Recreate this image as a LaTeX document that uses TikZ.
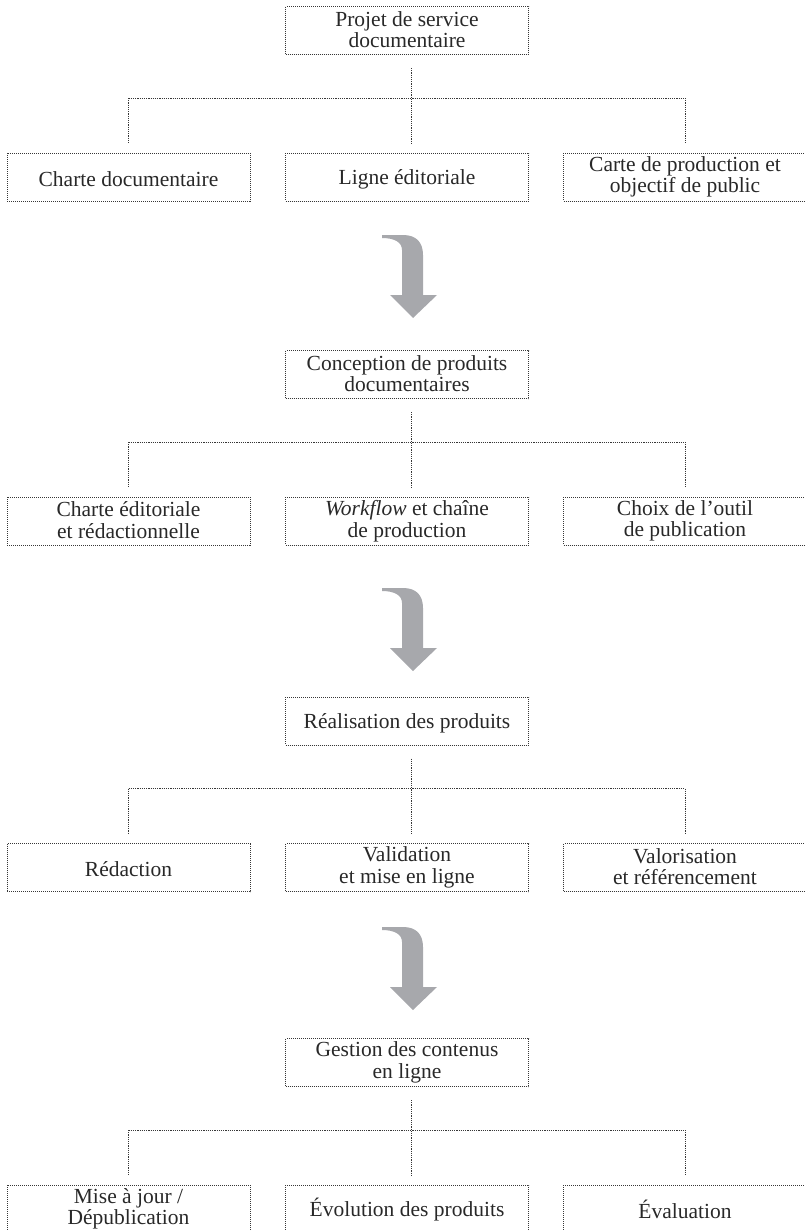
\documentclass[tikz,border=0pt]{standalone}
\usepackage{fontspec}
\setmainfont{Liberation Serif}
\definecolor{txt}{RGB}{40,40,40}
\definecolor{ln}{RGB}{55,55,55}
\definecolor{arr}{RGB}{167,168,172}
\newcommand{\topstrut}{\rule{0pt}{20pt}}
\newcommand{\botstrut}{\rule[-2pt]{0pt}{2pt}}
\tikzset{
  box/.style={draw=ln, line width=0.9pt, dash pattern=on 1pt off 1pt,
    minimum width=243pt, minimum height=48pt, inner sep=0pt, align=center,
    text=txt, font=\fontsize{21.5}{21.5}\selectfont,
    execute at begin node=\topstrut, execute at end node=\botstrut},
  conn/.style={draw=ln, line width=0.9pt, dash pattern=on 1.2pt off 1pt},
  curvarrow/.pic={
    \fill[arr] (-31,0) -- (-10,0) .. controls (3,0) and (10,7) .. (10,20)
      -- (10,60) -- (24,60) -- (0,83) -- (-23,60) -- (-11,60) -- (-11,15)
      .. controls (-11,7) and (-19,3) .. (-31,3) -- cycle;
  }
}
\begin{document}
\begin{tikzpicture}[x=1pt,y=-1pt]
\useasboundingbox (0,0) rectangle (805,1231);

% ---------- Stage 1 (c = 30.5)
\node[box] (p1) at (407,30.5) {Projet de service\\documentaire};
\node[box] (a1) at (128.5,177) {Charte documentaire};
\node[box] (b1) at (407,177) {Ligne éditoriale};
\node[box] (c1) at (685,177) {Carte de production et\\objectif de public};
\coordinate (v1) at (411,68);
\coordinate (h1l) at (128.5,98);
\coordinate (h1r) at (685,98);
\coordinate (d1l) at (128.5,143);
\coordinate (d1m) at (411,143);
\coordinate (d1r) at (685,143);
\draw[conn] (v1) -- (d1m);
\draw[conn] (h1l) -- (h1r);
\draw[conn] (h1l) -- (d1l);
\draw[conn] (h1r) -- (d1r);
\pic at (413,235) {curvarrow};

% ---------- Stage 2 (c = 374.5)
\node[box] (p2) at (407,374.5) {Conception de produits\\documentaires};
\node[box] (a2) at (128.5,521) {Charte éditoriale\\et rédactionnelle};
\node[box] (b2) at (407,521) {\textit{Workflow} et chaîne\\de production};
\node[box] (c2) at (685,521) {Choix de l’outil\\de publication};
\coordinate (v2) at (411,412);
\coordinate (h2l) at (128.5,442);
\coordinate (h2r) at (685,442);
\coordinate (d2l) at (128.5,487);
\coordinate (d2m) at (411,487);
\coordinate (d2r) at (685,487);
\draw[conn] (v2) -- (d2m);
\draw[conn] (h2l) -- (h2r);
\draw[conn] (h2l) -- (d2l);
\draw[conn] (h2r) -- (d2r);
\pic at (413,588) {curvarrow};

% ---------- Stage 3 (c = 721)
\node[box] (p3) at (407,721) {Réalisation des produits};
\node[box] (a3) at (128.5,867.5) {Rédaction};
\node[box] (b3) at (407,867.5) {Validation\\et mise en ligne};
\node[box] (c3) at (685,867.5) {Valorisation\\et référencement};
\coordinate (v3) at (411,758.5);
\coordinate (h3l) at (128.5,788.5);
\coordinate (h3r) at (685,788.5);
\coordinate (d3l) at (128.5,833.5);
\coordinate (d3m) at (411,833.5);
\coordinate (d3r) at (685,833.5);
\draw[conn] (v3) -- (d3m);
\draw[conn] (h3l) -- (h3r);
\draw[conn] (h3l) -- (d3l);
\draw[conn] (h3r) -- (d3r);
\pic at (413,927) {curvarrow};

% ---------- Stage 4 (c = 1062.5)
\node[box] (p4) at (407,1062.5) {Gestion des contenus\\en ligne};
\node[box] (a4) at (128.5,1209) {Mise à jour /\\Dépublication};
\node[box] (b4) at (407,1209) {Évolution des produits};
\node[box] (c4) at (685,1209) {Évaluation};
\coordinate (v4) at (411,1100);
\coordinate (h4l) at (128.5,1130);
\coordinate (h4r) at (685,1130);
\coordinate (d4l) at (128.5,1175);
\coordinate (d4m) at (411,1175);
\coordinate (d4r) at (685,1175);
\draw[conn] (v4) -- (d4m);
\draw[conn] (h4l) -- (h4r);
\draw[conn] (h4l) -- (d4l);
\draw[conn] (h4r) -- (d4r);
\end{tikzpicture}
\end{document}
